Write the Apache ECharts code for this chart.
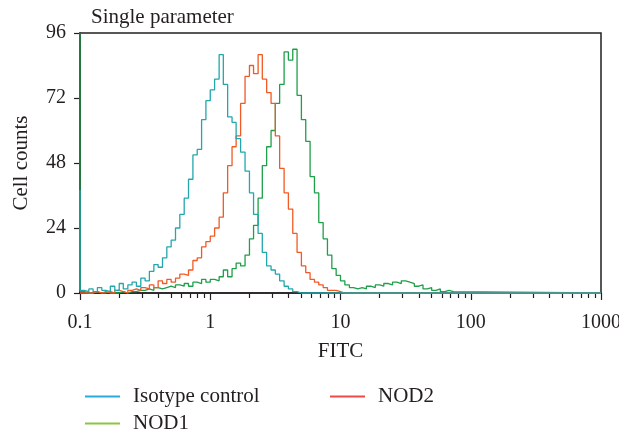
<!DOCTYPE html>
<html>
<head>
<meta charset="utf-8">
<script src="https://cdn.jsdelivr.net/npm/echarts@6/dist/echarts.min.js"></script>
<style>
	html, body { margin: 0; padding: 0; background: #fff; }
	#chart { width: 619px; height: 430px; }
</style>
</head>
<body>
<div id="chart"></div>
<script>
// histogram bin starts (FITC, log scale)
const bins = [
	0.1, 0.108, 0.117, 0.126, 0.136, 0.147, 0.158, 0.171, 0.185, 0.2,
	0.215, 0.233, 0.251, 0.271, 0.293, 0.316, 0.341, 0.369, 0.398, 0.43,
	0.464, 0.501, 0.541, 0.584, 0.631, 0.681, 0.736, 0.794, 0.858, 0.926,
	1.0, 1.08, 1.17, 1.26, 1.36, 1.47, 1.58, 1.71, 1.85, 2.0,
	2.15, 2.33, 2.51, 2.71, 2.93, 3.16, 3.41, 3.69, 3.98, 4.3,
	4.64, 5.01, 5.41, 5.84, 6.31, 6.81, 7.36, 7.94, 8.58, 9.26,
	10.0, 10.8, 11.7, 12.6, 13.6, 14.7, 15.8, 17.1, 18.5, 20.0,
	21.5, 23.3, 25.1, 27.1, 29.3, 31.6, 34.1, 36.9, 39.8, 43.0,
	46.4, 50.1, 54.1, 58.4, 63.1, 68.1, 73.6,
]
const lastEdge = 1000

const isotype = [
	1, 0.5, 1.5, 0.5, 2, 1, 0.5, 2.5, 1, 3.5,
	1.5, 3, 4, 2.5, 5.5, 4.5, 8, 10.5, 9.5, 13,
	17, 19.5, 24, 29, 35, 42, 51, 53, 64, 71,
	75, 79, 88, 77, 65, 63, 57, 52, 45, 37,
	29, 22, 15, 10, 8.5, 7, 4.5, 2.5, 1.5, 0.5,
	0, 0, 0, 0, 0, 0, 0, 0, 0, 0,
	0, 0, 0, 0, 0, 0, 0, 0, 0, 0,
	0, 0, 0, 0, 0, 0, 0, 0, 0, 0,
	0, 0, 0, 0, 0, 0, 0,
]
const nod2 = [
	0, 0, 0, 0.5, 0, 0.5, 0, 0, 1, 0.5,
	0, 1, 1.5, 1, 2, 1.5, 3, 2, 4.5, 3.5,
	5, 4, 5.5, 7, 6.5, 8.5, 12, 13, 17, 19,
	21, 24, 28, 37, 47, 54, 58, 70, 80, 84,
	81, 88, 79, 74, 70, 58, 46, 37, 31, 22,
	15, 10, 7.5, 5, 4, 3, 2, 1, 1, 0.5,
	0, 0, 0, 0, 0, 0, 0, 0, 0, 0,
	0, 0, 0, 0, 0, 0, 0, 0, 0, 0,
	0, 0, 0, 0, 0, 0, 0,
]
const nod1 = [
	0.5, 0, 0, 0.5, 0, 0, 0.5, 0, 0, 0.5,
	0, 0.5, 0.5, 1, 1, 1.5, 1, 2, 1.5, 2,
	2.5, 2, 3, 2.5, 3.5, 2.5, 4, 3.5, 5, 4,
	5, 4.5, 6, 8.5, 6, 9, 11, 10, 14, 20,
	25, 35, 47, 54, 60, 70, 77, 89, 86, 90,
	73, 64, 56, 43, 37, 26, 20, 14, 9, 6.5,
	4.5, 3, 2, 1.5, 2, 1.5, 2.5, 2, 3, 2.5,
	3.5, 3, 4, 3.5, 4.5, 4, 3.5, 2.5, 3, 1.5,
	2, 1, 1.5, 0.5, 1, 0.5, 0,
]
// off-scale counts piled up in the first channel (shown at the top of the scale)
const isotypeEdge = 38
const nod1Edge = 96

const yTicks = [0, 24, 48, 72, 96]
const minorTicks = [
	0.2, 0.3, 0.4, 0.5, 0.6, 0.7, 0.8, 0.9,
	2, 3, 4, 5, 6, 7, 8, 9,
	20, 30, 40, 50, 60, 70, 80, 90,
	200, 300, 400, 500, 600, 700, 800, 900,
]

const font = 'Liberation Serif'
const ink = '#231f20'

function toSteps(values, edge) {
	let pts = []
	if (edge) pts.push([bins[0], edge])
	bins.forEach((b, i) => {
		pts.push([b, values[i]])
	})
	pts.push([lastEdge, 0])
	return pts
}

function histSeries(name, color, data) {
	return {
		name: name,
		type: 'line',
		step: 'end',
		symbol: 'none',
		showSymbol: false,
		clip: false,
		lineStyle: { color: color, width: 1.3 },
		itemStyle: { color: color },
		data: data,
	}
}

function legendAt(name, color, left, top) {
	return {
		left: left,
		top: top,
		icon: 'rect',
		itemWidth: 35,
		itemHeight: 2,
		selectedMode: false,
		data: [{ name: name, itemStyle: { color: color } }],
		textStyle: {
			fontFamily: font,
			fontSize: 21,
			color: ink,
			padding: [0, 0, 0, 8],
		},
	}
}

const myChart = echarts.init(document.getElementById('chart'))
const option = {
	animation: false,
	backgroundColor: '#fff',
	title: {
		text: 'Single parameter',
		left: 86,
		top: 2,
		textStyle: { fontFamily: font, fontSize: 21, fontWeight: 'normal', color: ink },
	},
	grid: {
		left: 80,
		right: 18,
		top: 33,
		bottom: 137,
		outerBoundsMode: 'none',
		containLabel: false,
		show: true,
		borderColor: ink,
		borderWidth: 1.5,
	},
	legend: [
		legendAt('Isotype control', '#29abe2', 80, 381),
		legendAt('NOD2', '#ef4a46', 325, 381),
		legendAt('NOD1', '#8cc63f', 80, 408),
	],
	xAxis: [
		{
			type: 'log',
			logBase: 10,
			min: 0.1,
			max: 1000,
			name: 'FITC',
			nameLocation: 'middle',
			nameGap: 48,
			nameTextStyle: { fontFamily: font, fontSize: 21, color: ink },
			axisLine: { lineStyle: { color: ink, width: 1.5 } },
			axisTick: { length: 7, lineStyle: { color: ink, width: 1.2 } },
			axisLabel: {
				margin: 20,
				fontFamily: font,
				fontSize: 20,
				color: ink,
				formatter: (v) => String(+Number(v).toPrecision(3)),
			},
			splitLine: { show: false },
		},
		{
			type: 'log',
			logBase: 10,
			min: 0.1,
			max: 1000,
			position: 'bottom',
			axisLine: { show: false },
			axisTick: { length: 5, customValues: minorTicks, lineStyle: { color: ink, width: 1.2 } },
			axisLabel: { show: false },
			splitLine: { show: false },
		},
	],
	yAxis: {
		type: 'value',
		min: 0,
		max: 96,
		interval: 24,
		name: 'Cell counts',
		nameLocation: 'middle',
		nameGap: 48,
		nameTextStyle: { fontFamily: font, fontSize: 21, color: ink },
		axisLine: { show: true, lineStyle: { color: ink, width: 1.5 } },
		axisTick: { show: true, length: 6, lineStyle: { color: ink, width: 1.2 } },
		axisLabel: {
			margin: 14,
			fontFamily: font,
			fontSize: 20,
			color: ink,
			customValues: yTicks,
		},
		splitLine: { show: false },
	},
	series: [
		histSeries('NOD1', '#1f9f49', toSteps(nod1, nod1Edge)),
		histSeries('NOD2', '#f15a24', toSteps(nod2, 0)),
		histSeries('Isotype control', '#22a7ad', toSteps(isotype, isotypeEdge)),
	],
}
myChart.setOption(option)
</script>
</body>
</html>
